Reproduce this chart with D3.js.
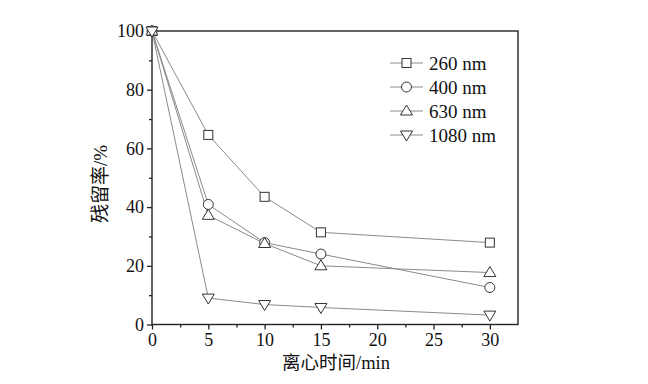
<!DOCTYPE html>
<html><head><meta charset="utf-8">
<script src="https://cdn.jsdelivr.net/npm/d3@7"></script>
<style>body{margin:0;background:#fff}</style>
</head><body>
<svg id="c" width="648" height="384"></svg>
<script>
const times = [0, 5, 10, 15, 30];
const seriesNames = ["260 nm", "400 nm", "630 nm", "1080 nm"];
const s260 = [100, 64.6, 43.5, 31.4, 27.9];
const s400 = [100, 40.9, 27.9, 24.0, 12.6];
const s630 = [100, 37.2, 27.6, 20.0, 17.7];
const s1080 = [100, 9.0, 6.8, 5.8, 3.2];
const xTicks = [0, 5, 10, 15, 20, 25, 30];
const yTicks = [0, 20, 40, 60, 80, 100];
const xLabel = "离心时间/min";
const yLabel = "残留率/%";
const symbols = ["square", "circle", "tri", "tridown"];

const svg = d3.select("#c");
const L = 152, R = 518, T = 31, B = 324.5;
const x = d3.scaleLinear().domain([0, 32.5]).range([L, R]);
const y = d3.scaleLinear().domain([0, 100]).range([B, T]);
const font = "'Liberation Serif','Times New Roman',serif";
const cjk = "'Liberation Serif','Noto Sans CJK SC',serif";

// axes
const xAxis = d3.axisBottom(x).tickValues(xTicks).tickSize(5).tickPadding(4).tickFormat(d3.format("d"));
const xMinor = d3.axisBottom(x).tickValues(d3.range(2.5, 32.5, 5)).tickSize(3).tickFormat("");
const yAxis = d3.axisLeft(y).tickValues(yTicks).tickSize(5).tickPadding(3).tickFormat(d3.format("d"));
const yMinor = d3.axisLeft(y).tickValues(d3.range(10, 100, 20)).tickSize(3).tickFormat("");

function style(g){
  g.select(".domain").remove();
  g.selectAll("line").attr("stroke", "#222").attr("stroke-width", 1.3);
  g.selectAll("text").attr("font-family", font).attr("font-size", 18).attr("fill", "#111");
}
svg.append("g").attr("transform", `translate(0,${B})`).call(xAxis).call(style);
svg.append("g").attr("transform", `translate(0,${B})`).call(xMinor).call(style);
svg.append("g").attr("transform", `translate(${L},0)`).call(yAxis).call(style);
svg.append("g").attr("transform", `translate(${L},0)`).call(yMinor).call(style);

// frame
svg.append("rect").attr("x", L).attr("y", T).attr("width", R - L).attr("height", B - T)
  .attr("fill", "none").attr("stroke", "#222").attr("stroke-width", 1.4);

// labels
svg.append("text").attr("x", 336).attr("y", 369).attr("text-anchor", "middle")
  .attr("font-family", cjk).attr("font-size", 18.5).attr("fill", "#111").text(xLabel);
svg.append("text").attr("transform", "translate(107,184) rotate(-90)").attr("text-anchor", "middle")
  .attr("font-family", cjk).attr("font-size", 19).attr("fill", "#111").text(yLabel);

function marker(g, type, cx, cy){
  const st = e => e.attr("fill", "#fff").attr("stroke", "#333").attr("stroke-width", 1);
  if (type === "square") st(g.append("rect").attr("x", cx - 4.5).attr("y", cy - 4.5).attr("width", 9).attr("height", 9));
  else if (type === "circle") st(g.append("circle").attr("cx", cx).attr("cy", cy).attr("r", 5));
  else if (type === "tri") st(g.append("path").attr("d", `M${cx},${cy-6}L${cx+6},${cy+4}L${cx-6},${cy+4}Z`));
  else st(g.append("path").attr("d", `M${cx},${cy+6}L${cx+6},${cy-4}L${cx-6},${cy-4}Z`));
}

const allSeries = [s260, s400, s630, s1080];
const line = d3.line().x((d, i) => x(times[i])).y(d => y(d));
allSeries.forEach((vals, k) => {
  svg.append("path").datum(vals).attr("d", line).attr("fill", "none")
    .attr("stroke", "#8a8a8a").attr("stroke-width", 1);
});
allSeries.forEach((vals, k) => {
  const g = svg.append("g");
  vals.forEach((v, i) => marker(g, symbols[k], x(times[i]), y(v)));
});

// legend
seriesNames.forEach((name, k) => {
  const ly = 63 + k * 24;
  const g = svg.append("g");
  g.append("line").attr("x1", 390).attr("x2", 423).attr("y1", ly).attr("y2", ly)
    .attr("stroke", "#8a8a8a").attr("stroke-width", 1);
  marker(g, symbols[k], 406.5, ly);
  g.append("text").attr("x", 429).attr("y", ly + 6.5).attr("font-family", font)
    .attr("font-size", 19).attr("fill", "#111").text(name);
});
</script>
</body></html>
